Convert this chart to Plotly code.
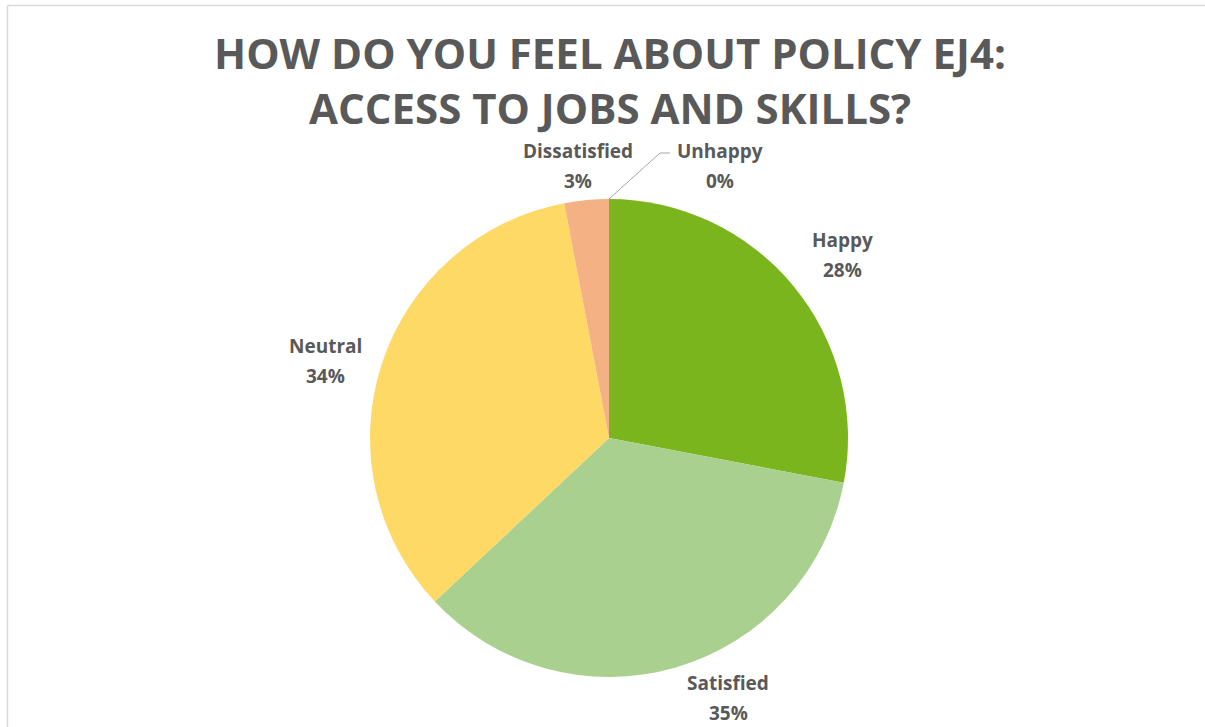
import math
import plotly.graph_objects as go

# Survey responses for Policy EJ4
categories = ["Happy", "Satisfied", "Neutral", "Dissatisfied", "Unhappy"]
percentages = [28, 35, 34, 3, 0]
colors = ["#7BB51D", "#A9D08E", "#FFD966", "#F4B183", "#ED7D31"]

title_lines = ["HOW DO YOU FEEL ABOUT POLICY EJ4:", "ACCESS TO JOBS AND SKILLS?"]

W, H = 1205, 727
CX, CY, R = 609, 438, 239          # pie centre and radius in pixels
TEXT = "#595959"
FONT = "Open Sans"

# label block centres (pixels) for each category
label_pos = {
    "Happy": (842, 255),
    "Satisfied": (728, 698),
    "Neutral": (325, 361),
    "Dissatisfied": (578, 166),
    "Unhappy": (720, 166),
}


def px(x, y):
    return x / W, 1 - y / H


fig = go.Figure()
fig.add_trace(go.Pie(
    labels=categories,
    values=percentages,
    marker=dict(colors=colors, line=dict(width=0)),
    sort=False,
    direction="clockwise",
    rotation=0,
    textinfo="none",
    hoverinfo="label+percent",
    showlegend=False,
    domain=dict(x=[(CX - R) / W, (CX + R) / W],
                y=[1 - (CY + R) / H, 1 - (CY - R) / H]),
))

annotations = []
for i, line in enumerate(title_lines):
    x, y = px(610, 53 + i * 55)
    annotations.append(dict(x=x, y=y, xref="paper", yref="paper", text=line,
                            showarrow=False, xanchor="center", yanchor="middle",
                            font=dict(family=FONT, size=42, color=TEXT, weight=700)))

for cat, val in zip(categories, percentages):
    lx, ly = label_pos[cat]
    for j, t in enumerate([cat, f"{val}%"]):
        x, y = px(lx, ly - 15 + j * 30)
        annotations.append(dict(x=x, y=y, xref="paper", yref="paper", text=t,
                                showarrow=False, xanchor="center", yanchor="middle",
                                font=dict(family=FONT, size=19, color=TEXT, weight=700)))

shapes = []
# leader line for zero-size slices, starting on the rim at the slice angle
cum = 0
for cat, val in zip(categories, percentages):
    start = cum
    cum += val
    if val == 0:
        ang = math.radians(start / sum(percentages) * 360)
        sx, sy = CX + R * math.sin(ang), CY - R * math.cos(ang)
        lx, ly = label_pos[cat]
        ex, ey = lx - 60, ly - 13
        for (a, b), (c, d) in [((sx, sy), (ex, ey)), ((ex, ey), (ex + 10, ey))]:
            x0, y0 = px(a, b)
            x1, y1 = px(c, d)
            shapes.append(dict(type="line", xref="paper", yref="paper",
                               x0=x0, y0=y0, x1=x1, y1=y1,
                               line=dict(color="#A6A6A6", width=1)))

# chart area border
bx, by = px(7.5, 5.5)
shapes.append(dict(type="line", xref="paper", yref="paper", x0=bx, y0=by, x1=1, y1=by,
                   line=dict(color="#D9D9D9", width=1.5)))
shapes.append(dict(type="line", xref="paper", yref="paper", x0=bx, y0=by, x1=bx, y1=0,
                   line=dict(color="#D9D9D9", width=1.5)))

fig.update_layout(
    width=W, height=H,
    margin=dict(l=0, r=0, t=0, b=0),
    paper_bgcolor="white",
    plot_bgcolor="white",
    annotations=annotations,
    shapes=shapes,
)

fig.write_html("out.html")
